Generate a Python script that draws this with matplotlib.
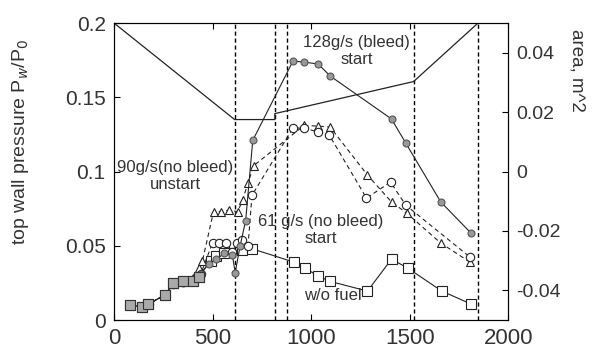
import matplotlib.pyplot as plt
import numpy as np

plt.rcParams['font.family'] = ['Liberation Sans', 'DejaVu Sans']

# 128 g/s (bleed) start - gray filled circles
x_128 = [80, 140, 180, 260, 300, 350, 400, 440, 480, 520, 560, 600, 615, 640, 668, 704,
         908, 964, 1036, 1097, 1408, 1480, 1658, 1811]
y_128 = [0.010, 0.009, 0.011, 0.017, 0.024, 0.025, 0.027, 0.031, 0.038, 0.041, 0.045, 0.044,
         0.032, 0.050, 0.067, 0.121, 0.1744, 0.1737, 0.1724, 0.1643, 0.1354, 0.1192, 0.0795, 0.0586]

# 61 g/s (no bleed) start - open circles
x_61 = [80, 140, 180, 260, 300, 350, 400, 440, 500, 535, 570, 600, 625, 650, 680, 700,
        908, 964, 1036, 1092, 1281, 1403, 1480, 1806]
y_61 = [0.010, 0.009, 0.011, 0.017, 0.024, 0.026, 0.027, 0.031, 0.052, 0.052, 0.052, 0.046,
        0.052, 0.054, 0.050, 0.084, 0.1293, 0.1293, 0.1266, 0.1246, 0.0821, 0.0929, 0.0774, 0.0424]

# 90 g/s (no bleed) unstart - open triangles
x_90 = [80, 140, 180, 260, 300, 350, 400, 430, 449, 505, 541, 582, 628, 653, 679, 709,
        964, 1036, 1097, 1286, 1408, 1485, 1658, 1806]
y_90 = [0.010, 0.009, 0.011, 0.017, 0.024, 0.026, 0.028, 0.035, 0.040, 0.073, 0.073, 0.074,
        0.073, 0.081, 0.092, 0.104, 0.131, 0.1306, 0.1299, 0.0976, 0.0795, 0.072, 0.0518, 0.039]

# w/o fuel - open squares
x_nf = [80, 140, 175, 260, 300, 350, 400, 430, 490, 520, 560, 650, 700,
        913, 969, 1036, 1097, 1286, 1408, 1490, 1663, 1811]
y_nf = [0.010, 0.009, 0.011, 0.017, 0.025, 0.026, 0.026, 0.029, 0.040, 0.043, 0.045, 0.047, 0.048,
        0.039, 0.035, 0.0296, 0.026, 0.0195, 0.041, 0.035, 0.0195, 0.0108]
n_overlap = 8  # early w/o fuel points that sit under the other series

# duct area (right axis)
x_area = [0, 612, 816, 816, 1520, 1847, 2000]
y_area = [0.05, 0.0175, 0.0175, 0.0195, 0.0303, 0.05, 0.05]

# vertical dashed reference lines
x_vlines = [612, 816, 878, 1520, 1847]

fig = plt.figure(figsize=(6, 3.49), dpi=100)
ax = fig.add_axes([0.19, 0.083, 0.657, 0.851])
ax2 = ax.twinx()

txt = '#333333'
for xv in x_vlines:
    ax.axvline(xv, color='black', ls=(0, (3, 2)), lw=1.0, zorder=1)

ax.plot(x_nf, y_nf, color='#222222', lw=0.8, marker='s', ms=7, mfc='white', mec='#222222', mew=0.8, zorder=2)
ax.plot(x_90, y_90, color='#222222', lw=0.8, ls=(0, (4, 3)), marker='^', ms=6, mfc='white', mec='#222222', mew=0.8, zorder=3)
ax.plot(x_61, y_61, color='#222222', lw=0.8, ls=(0, (4, 3)), marker='o', ms=6, mfc='white', mec='#222222', mew=0.8, zorder=4)
ax.plot(x_128, y_128, color='#222222', lw=0.8, marker='o', ms=5, mfc='#999999', mec='#555555', mew=0.8, zorder=5)
# the low-speed cluster looks like shaded squares in the original
ax.plot(x_nf[:n_overlap], y_nf[:n_overlap], ls='none', marker='s', ms=7, mfc='#aaaaaa', mec='#333333', mew=0.8, zorder=6)

ax2.plot(x_area, y_area, color='#222222', lw=0.9)

ax.set_xlim(0, 2000)
ax.set_ylim(0, 0.2)
ax2.set_ylim(-0.05, 0.05)
ax.set_xticks([0, 500, 1000, 1500, 2000])
ax.set_yticks([0, 0.05, 0.1, 0.15, 0.2])
ax.set_yticklabels(['0', '0.05', '0.1', '0.15', '0.2'])
ax2.set_yticks([-0.04, -0.02, 0, 0.02, 0.04])
ax2.set_yticklabels(['-0.04', '-0.02', '0', '0.02', '0.04'])

ax.tick_params(axis='both', direction='in', labelsize=16, labelcolor=txt, length=4, top=True, pad=6)
ax.tick_params(axis='y', labelsize=15)
ax2.tick_params(axis='y', direction='in', labelsize=14, labelcolor=txt, length=4, pad=6)

ax.set_ylabel('top wall pressure P$_w$/P$_0$', fontsize=14, color=txt)
ax.yaxis.set_label_coords(-0.21, 0.6)
ax2.set_ylabel('area, m^2', fontsize=13.5, color=txt, rotation=270, va='center')
ax2.yaxis.set_label_coords(1.175, 0.84)

ax.text(1230, 0.181, '128g/s (bleed)\nstart', fontsize=12, color=txt, ha='center', va='center', linespacing=1.15)
ax.text(311, 0.097, '90g/s(no bleed)\nunstart', fontsize=12, color=txt, ha='center', va='center', linespacing=1.15)
ax.text(1051, 0.0606, '61 g/s (no bleed)\nstart', fontsize=12, color=txt, ha='center', va='center', linespacing=1.15)
ax.text(1112, 0.0165, 'w/o fuel', fontsize=12, color=txt, ha='center', va='center')

fig.savefig('out.png', dpi=100)
